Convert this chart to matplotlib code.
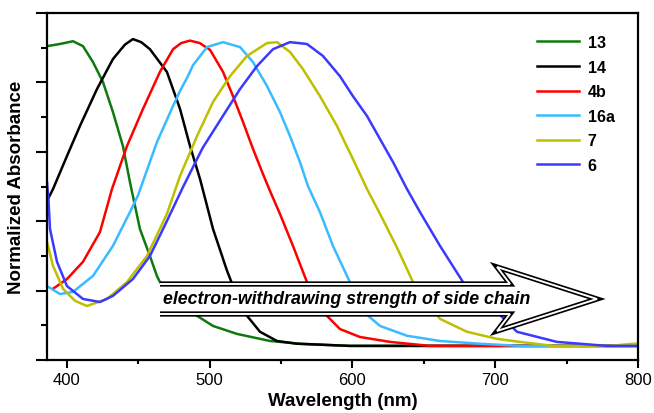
import numpy as np
import matplotlib
matplotlib.use("Agg")
import matplotlib.pyplot as plt
from matplotlib.patches import Polygon
from matplotlib.lines import Line2D

plt.rcParams["font.family"] = ["Liberation Sans", "DejaVu Sans"]

# Спектры поглощения (длина волны, нм / нормированное поглощение)
wl_13 = [386.0, 395.1, 404.2, 411.2, 418.2, 425.2, 432.2, 439.2, 444.1, 451.1, 458.1, 463.0, 465.1, 475.7,
         491.1, 502.3, 519.1, 542.2, 563.2, 598, 800]
ab_13 = [0.977, 0.984, 0.993, 0.977, 0.925, 0.860, 0.762, 0.651, 0.534, 0.381, 0.293, 0.228, 0.208, 0.153,
         0.098, 0.065, 0.039, 0.016, 0.007, 0.0, 0.0]

wl_14 = [386.7, 390.2, 400, 409.1, 421.0, 432.2, 440.6, 446.2, 452.0, 458.1, 470.0, 479.2, 486.2, 493.2,
         502.3, 512.1, 516.3, 526.1, 535.2, 547.1, 561.1, 598, 800]
ab_14 = [0.479, 0.511, 0.619, 0.717, 0.837, 0.935, 0.982, 1.0, 0.990, 0.967, 0.893, 0.772, 0.651, 0.544,
         0.381, 0.245, 0.195, 0.098, 0.046, 0.016, 0.007, 0.0, 0.0]

wl_4b = [390.2, 400, 411.2, 423.1, 431.5, 442.0, 453.2, 465.1, 474.3, 480.0, 486.2, 493.0, 500.2, 509.3,
         516.3, 523.3, 530.3, 537.3, 542.2, 549.2, 558.3, 568.1, 582.1, 591.2, 605.2, 626.3, 654.3, 800]
ab_4b = [0.186, 0.218, 0.274, 0.371, 0.511, 0.651, 0.772, 0.893, 0.967, 0.987, 0.995, 0.987, 0.965, 0.893,
         0.814, 0.730, 0.642, 0.560, 0.505, 0.430, 0.326, 0.208, 0.098, 0.055, 0.029, 0.013, 0.0, 0.0]

wl_16a = [386.0, 395.1, 404.2, 418.2, 432.2, 444.1, 449.7, 463.0, 474.3, 479.2, 484.8, 488.3, 498.1, 509.3,
          521.2, 530.3, 540.1, 549.2, 556.2, 563.2, 568.8, 577.2, 586.3, 598.2, 605.2, 619.3, 638.2, 661.3,
          689.3, 717.3, 800]
ab_16a = [0.195, 0.169, 0.176, 0.228, 0.326, 0.436, 0.490, 0.664, 0.782, 0.831, 0.880, 0.915, 0.974, 0.990,
          0.974, 0.925, 0.847, 0.762, 0.684, 0.599, 0.521, 0.436, 0.326, 0.208, 0.121, 0.065, 0.033, 0.016,
          0.007, 0.0, 0.0]

wl_7 = [386.0, 390.2, 397.2, 405.6, 414.0, 428.0, 442.0, 456.0, 470.0, 479.2, 491.1, 502.3, 514.2, 526.1,
        540.1, 547.1, 556.2, 565.3, 577.2, 589.1, 600.3, 610.2, 619.3, 631.2, 642.4, 661.3, 680.2, 701.2,
        717.3, 740.4, 780.4, 796.5, 800]
ab_7 = [0.339, 0.261, 0.186, 0.147, 0.130, 0.153, 0.208, 0.293, 0.430, 0.554, 0.684, 0.795, 0.879, 0.945,
        0.987, 0.990, 0.958, 0.902, 0.814, 0.717, 0.609, 0.511, 0.430, 0.320, 0.208, 0.088, 0.046, 0.023,
        0.013, 0.0, 0.0, 0.007, 0.007]

wl_6 = [386.0, 387.0, 388.1, 393.0, 400, 411.2, 423.1, 432.2, 446.2, 458.1, 470.0, 481.3, 495.0, 509.3,
        521.2, 533.1, 544.3, 556.2, 568.1, 579.3, 591.2, 600.3, 610.2, 619.3, 628.4, 638.2, 647.3, 661.3,
        677.4, 701.2, 715.2, 743.2, 778.3, 800]
ab_6 = [0.534, 0.479, 0.381, 0.274, 0.195, 0.153, 0.143, 0.163, 0.218, 0.293, 0.407, 0.518, 0.645, 0.750,
        0.837, 0.912, 0.967, 0.990, 0.984, 0.945, 0.879, 0.814, 0.749, 0.674, 0.599, 0.511, 0.436, 0.326,
        0.208, 0.111, 0.046, 0.013, 0.0, 0.0]

series = [
    ("13", wl_13, ab_13, "#0e7a0e"),
    ("14", wl_14, ab_14, "#000000"),
    ("4b", wl_4b, ab_4b, "#ff0000"),
    ("16a", wl_16a, ab_16a, "#38bcff"),
    ("7", wl_7, ab_7, "#bfbf00"),
    ("6", wl_6, ab_6, "#3a3aff"),
]

W, H = 654, 414
fig = plt.figure(figsize=(W / 100, H / 100), dpi=100)
ax = fig.add_axes([47 / W, 1 - 361 / H, (638 - 47) / W, (361 - 14) / H])

for name, x, y, c in series:
    ax.plot(x, y, color=c, lw=1.8, label=name, solid_joinstyle="round")

ax.set_xlim(386, 800)
ax.set_ylim(-0.046, 1.085)
ax.set_xticks([400, 500, 600, 700, 800])
ax.set_xticks([450, 550, 650, 750], minor=True)
yt = np.linspace(-0.046, 1.085, 6)
ax.set_yticks(yt)
ax.set_yticks((yt[:-1] + yt[1:]) / 2, minor=True)
ax.set_yticklabels([])
ax.tick_params(axis="x", which="major", length=6, width=1.5, labelsize=12, pad=3)
ax.tick_params(axis="x", which="minor", length=3, width=1.5)
ax.tick_params(axis="y", which="major", length=8, width=1.5)
ax.tick_params(axis="y", which="minor", length=4, width=1.5)
for s in ax.spines.values():
    s.set_linewidth(1.6)

ax.set_xlabel("Wavelength (nm)", fontsize=13.5, fontweight="bold", labelpad=3)
ax.set_ylabel("Normalized Absorbance", fontsize=13.5, fontweight="bold", labelpad=4)

leg = ax.legend(loc="upper right", bbox_to_anchor=(0.985, 0.978), frameon=False,
                fontsize=11.5, handlelength=2.6, labelspacing=0.6, handletextpad=0.55)
for t in leg.get_texts():
    t.set_fontweight("bold")

# Стрелка "electron-withdrawing strength"
def px(x, y):
    return (x / W, 1 - y / H)

outline = [px(160, 285), px(510, 285), px(497, 268), px(597, 300),
           px(497, 332), px(510, 315), px(160, 315)]
fig_tr = fig.transFigure
ax.add_patch(Polygon(outline, closed=True, facecolor="white", edgecolor="none",
                     transform=fig_tr, clip_on=False, zorder=5))
xs, ys = zip(*outline)
ax.add_line(Line2D(xs, ys, color="black", lw=3.8, solid_joinstyle="miter",
                   solid_capstyle="butt", transform=fig_tr, clip_on=False, zorder=6))
ax.add_line(Line2D(xs, ys, color="white", lw=1.4, solid_joinstyle="miter",
                   solid_capstyle="butt", transform=fig_tr, clip_on=False, zorder=7))
fig.text(163 / W, 1 - 300 / H, "electron-withdrawing strength of side chain",
         fontsize=12.8, fontweight="bold", fontstyle="italic", va="center", ha="left", zorder=8)

fig.savefig("out.png", dpi=100)
